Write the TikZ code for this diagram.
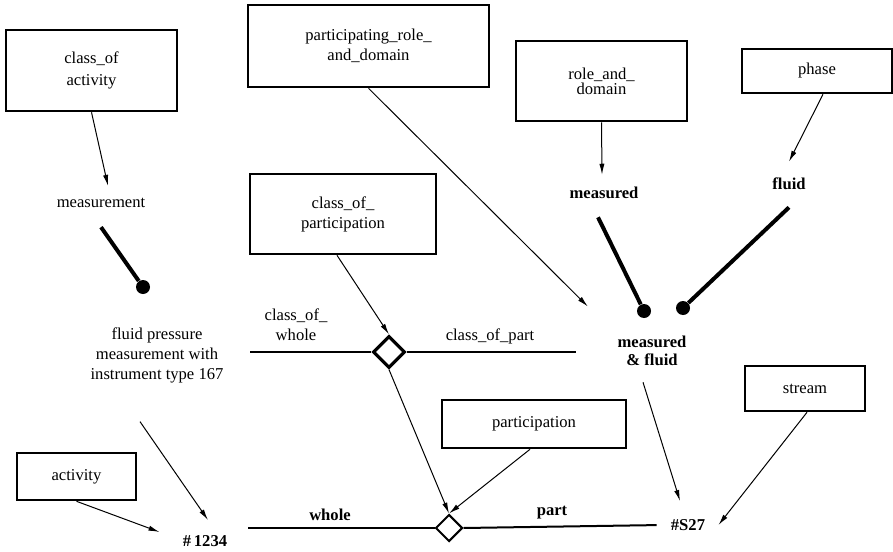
\documentclass[tikz,border=0pt]{standalone}
\usepackage{fontspec}
\setmainfont{Liberation Serif}
\usetikzlibrary{arrows.meta,shapes.geometric}

\begin{document}
\begin{tikzpicture}[x=0.5pt,y=-0.5pt,
        box/.style={draw,line width=1.3pt,align=center,inner sep=0pt,
            font=\fontsize{8.3}{10}\selectfont},
        lbl/.style={align=center,inner sep=4pt,font=\fontsize{8.3}{10}\selectfont},
        blbl/.style={align=center,inner sep=4pt,font=\fontsize{8.3}{9}\selectfont\bfseries},
        arr/.style={line width=0.5pt,-{Latex[length=5.5pt,width=2.6pt]}},
        link/.style={line width=1pt},
        pin/.style={line width=2pt},
        dot/.style={circle,fill,inner sep=0pt,minimum size=7pt},
        rel/.style={diamond,draw,fill=white,inner sep=0pt}]
        \useasboundingbox (0,0) rectangle (893,551);

        \node[box,minimum width=85.5pt,minimum height=40.5pt,
            font=\fontsize{8.3}{11}\selectfont] (coa) at (91.5,70.5) {class\_of\\activity};
        \node[box,minimum width=120.5pt,minimum height=41pt] (prd) at (368.5,46) {participating\_role\_\\and\_domain};
        \node[box,minimum width=85.5pt,minimum height=40pt,
            font=\fontsize{8.3}{7.5}\selectfont] (rad) at (601.5,81) {role\_and\_\\domain};
        \node[box,minimum width=75pt,minimum height=22pt] (phase) at (817,71) {phase};
        \node[box,minimum width=93pt,minimum height=40pt] (cop) at (343,214) {class\_of\_\\participation};
        \node[box,minimum width=92pt,minimum height=24pt] (part) at (534,424) {participation};
        \node[box,minimum width=60pt,minimum height=22.5pt] (stream) at (805,388.5) {stream};
        \node[box,minimum width=59.5pt,minimum height=23.5pt] (act) at (76.5,476.5) {activity};

        \node[lbl] (meas) at (101,203) {measurement};
        \node[blbl] (measd) at (604,193) {measured};
        \node[blbl] (fluid) at (789,184) {fluid};
        \node[blbl] (mf) at (652,351) {measured\\\& fluid};
        \node[lbl] (fpm) at (157,355) {fluid pressure\\measurement with\\instrument type 167};
        \node[lbl] (cow) at (296,325) {class\_of\_\\whole};
        \node[lbl] (cpt) at (490,336) {class\_of\_part};
        \node[blbl] (whole) at (330,515) {whole};
        \node[blbl] (prt) at (552,513) {part};
        \node[blbl] (n1234) at (205,541) {\#\,1234};
        \node[blbl] (s27) at (688,525) {\#S27};

        \node[dot] (dmeas) at (143,287) {};
        \node[dot] (dmeasd) at (644,311) {};
        \node[dot] (dfluid) at (683,308) {};

        \node[rel,line width=1.6pt,minimum width=16pt,minimum height=16pt] (d1) at (389,352) {};
        \node[rel,line width=1pt,minimum width=13.5pt,minimum height=13.5pt] (d2) at (449,528) {};

        \coordinate (cwl) at (250,352);
        \coordinate (cpr) at (576,352);
        \coordinate (wl) at (248,528);

        \draw[link] (cwl) -- (d1.west);
        \draw[link] (d1.east) -- (cpr);
        \draw[link] (wl) -- (d2.west);
        \draw[link, shorten >=3pt] (d2.east) -- (s27.west);

        \draw[arr] (coa.south) -- ([xshift=3.5pt,yshift=2pt]meas.north);
        \draw[arr, shorten >=15pt] (prd.south) -- (mf.north west);
        \draw[arr] (rad.south) -- ([xshift=-1pt,yshift=2pt]measd.north);
        \draw[arr] ([xshift=3pt]phase.south) -- ([yshift=4pt]fluid.north);
        \draw[arr] ([xshift=-3pt]cop.south) -- (d1.north);
        \draw[arr] (d1.south) -- (d2.north);
        \draw[arr] ([xshift=-2pt]part.south) -- (d2.north);
        \draw[arr] ([xshift=-8.5pt,yshift=-15.3pt]fpm.south) -- ([xshift=1.5pt,yshift=3.5pt]n1234.north);
        \draw[arr] (act.south) -- ([xshift=-7.5pt,yshift=4.5pt]n1234.west);
        \draw[arr] ([xshift=-4.5pt,yshift=-4pt]mf.south) -- ([xshift=-4pt,yshift=5pt]s27.north);
        \draw[arr] ([xshift=1pt]stream.south) -- ([xshift=2.5pt]s27.east);

        \draw[pin] ([yshift=-5.5pt]meas.south) -- (dmeas);
        \draw[pin] ([xshift=-3pt,yshift=-5pt]measd.south) -- (dmeasd);
        \draw[pin] ([yshift=-4.5pt]fluid.south) -- (dfluid);
\end{tikzpicture}
\end{document}
